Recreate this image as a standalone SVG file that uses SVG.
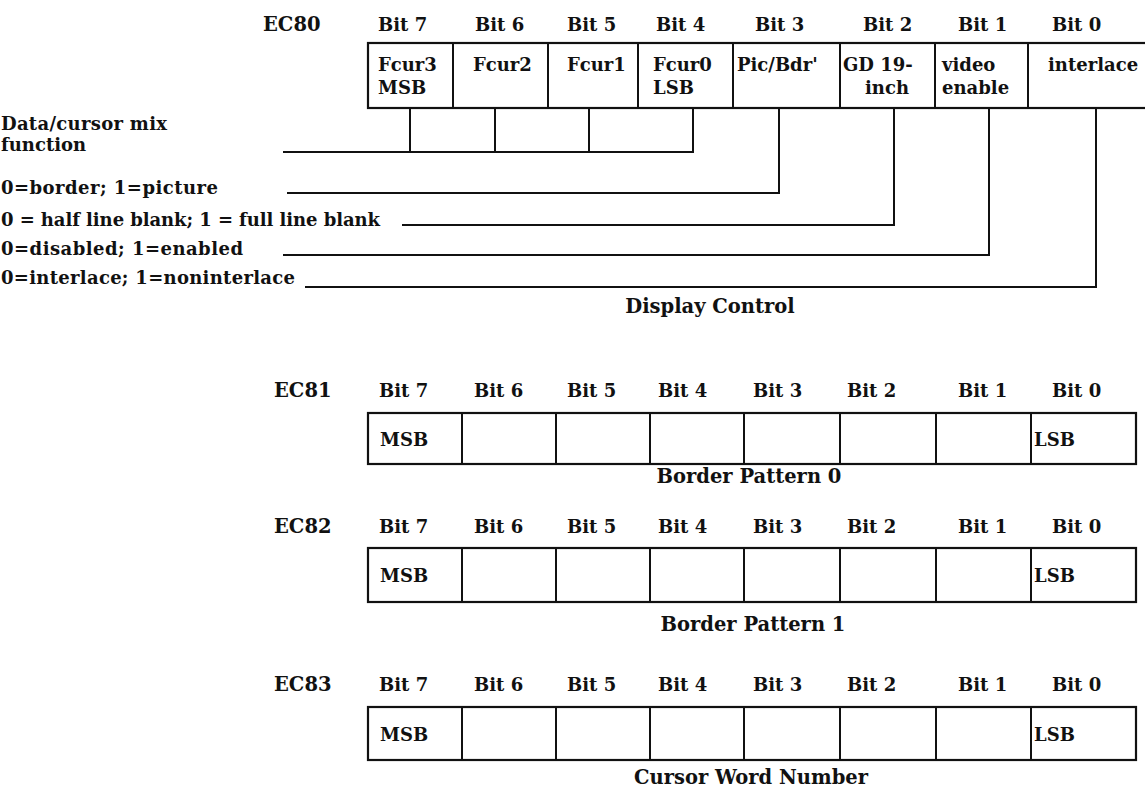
<svg xmlns="http://www.w3.org/2000/svg" width="1145" height="788" viewBox="0 0 1145 788">
<style>
text{font-family:"DejaVu Serif","Liberation Serif",serif;font-weight:bold;fill:#111}
.t{font-size:18px}
.h{font-size:19.5px}
.box{fill:none;stroke:#111;stroke-width:2.2}
.div{stroke:#111;stroke-width:2}
.ln{fill:none;stroke:#111;stroke-width:2;stroke-linejoin:miter}
</style>
<rect width="1145" height="788" fill="#fff"/>

<g id="reg-ec80">
<text class="h" x="263" y="31">EC80</text>
<text class="t" x="378" y="31">Bit 7</text>
<text class="t" x="475" y="31">Bit 6</text>
<text class="t" x="567" y="31">Bit 5</text>
<text class="t" x="656" y="31">Bit 4</text>
<text class="t" x="755" y="31">Bit 3</text>
<text class="t" x="863" y="31">Bit 2</text>
<text class="t" x="958" y="31">Bit 1</text>
<text class="t" x="1052" y="31">Bit 0</text>
<rect class="box" x="368" y="43" width="790" height="65"/>
<path class="div" d="M453 43V108M548 43V108M638 43V108M733 43V108M840 43V108M935 43V108M1028 43V108"/>
<text class="t" x="378" y="71">Fcur3</text>
<text class="t" x="378" y="94">MSB</text>
<text class="t" x="473" y="71">Fcur2</text>
<text class="t" x="567" y="71">Fcur1</text>
<text class="t" x="653" y="71">Fcur0</text>
<text class="t" x="653" y="94">LSB</text>
<text class="t" x="737" y="71">Pic/Bdr'</text>
<text class="t" x="843" y="71">GD 19-</text>
<text class="t" x="865" y="94">inch</text>
<text class="t" x="942" y="71">video</text>
<text class="t" x="942" y="94">enable</text>
<text class="t" x="1048" y="71">interlace</text>
</g>

<g id="label-mix">
<text class="t" x="1" y="130" textLength="166" lengthAdjust="spacing">Data/cursor mix</text>
<text class="t" x="1" y="151">function</text>
</g>
<g id="label-pic"><text class="t" x="1" y="194" textLength="217" lengthAdjust="spacing">0=border; 1=picture</text></g>
<g id="label-gd"><text class="t" x="1" y="226" textLength="379" lengthAdjust="spacing">0 = half line blank; 1 = full line blank</text></g>
<g id="label-video"><text class="t" x="1" y="255" textLength="242" lengthAdjust="spacing">0=disabled; 1=enabled</text></g>
<g id="label-interlace"><text class="t" x="1" y="284" textLength="294" lengthAdjust="spacing">0=interlace; 1=noninterlace</text></g>

<g id="connectors">
<path class="ln" d="M283 152H693V108M410 108V152M495 108V152M589 108V152"/>
<path class="ln" d="M287 193H779V108"/>
<path class="ln" d="M402 225H894V108"/>
<path class="ln" d="M283 255H989V108"/>
<path class="ln" d="M305 287H1096V108"/>
</g>

<g id="title-ec80"><text class="h" x="710" y="313" text-anchor="middle">Display Control</text></g>

<g id="reg-ec81">
<text class="h" x="274" y="397">EC81</text>
<text class="t" x="379" y="397">Bit 7</text>
<text class="t" x="474" y="397">Bit 6</text>
<text class="t" x="567" y="397">Bit 5</text>
<text class="t" x="658" y="397">Bit 4</text>
<text class="t" x="753" y="397">Bit 3</text>
<text class="t" x="847" y="397">Bit 2</text>
<text class="t" x="958" y="397">Bit 1</text>
<text class="t" x="1052" y="397">Bit 0</text>
<rect class="box" x="368" y="413" width="768" height="51"/>
<path class="div" d="M462 413V464M556 413V464M650 413V464M744 413V464M840 413V464M936 413V464M1031 413V464"/>
<text class="t" x="380" y="446">MSB</text>
<text class="t" x="1034" y="446">LSB</text>
<text class="h" x="749" y="483" text-anchor="middle">Border Pattern 0</text>
</g>

<g id="reg-ec82">
<text class="h" x="274" y="533">EC82</text>
<text class="t" x="379" y="533">Bit 7</text>
<text class="t" x="474" y="533">Bit 6</text>
<text class="t" x="567" y="533">Bit 5</text>
<text class="t" x="658" y="533">Bit 4</text>
<text class="t" x="753" y="533">Bit 3</text>
<text class="t" x="847" y="533">Bit 2</text>
<text class="t" x="958" y="533">Bit 1</text>
<text class="t" x="1052" y="533">Bit 0</text>
<rect class="box" x="368" y="548" width="768" height="54"/>
<path class="div" d="M462 548V602M556 548V602M650 548V602M744 548V602M840 548V602M936 548V602M1031 548V602"/>
<text class="t" x="380" y="582">MSB</text>
<text class="t" x="1034" y="582">LSB</text>
<text class="h" x="753" y="631" text-anchor="middle">Border Pattern 1</text>
</g>

<g id="reg-ec83">
<text class="h" x="274" y="691">EC83</text>
<text class="t" x="379" y="691">Bit 7</text>
<text class="t" x="474" y="691">Bit 6</text>
<text class="t" x="567" y="691">Bit 5</text>
<text class="t" x="658" y="691">Bit 4</text>
<text class="t" x="753" y="691">Bit 3</text>
<text class="t" x="847" y="691">Bit 2</text>
<text class="t" x="958" y="691">Bit 1</text>
<text class="t" x="1052" y="691">Bit 0</text>
<rect class="box" x="368" y="707" width="768" height="53"/>
<path class="div" d="M462 707V760M556 707V760M650 707V760M744 707V760M840 707V760M936 707V760M1031 707V760"/>
<text class="t" x="380" y="741">MSB</text>
<text class="t" x="1034" y="741">LSB</text>
<text class="h" x="751" y="784" text-anchor="middle">Cursor Word Number</text>
</g>
</svg>
